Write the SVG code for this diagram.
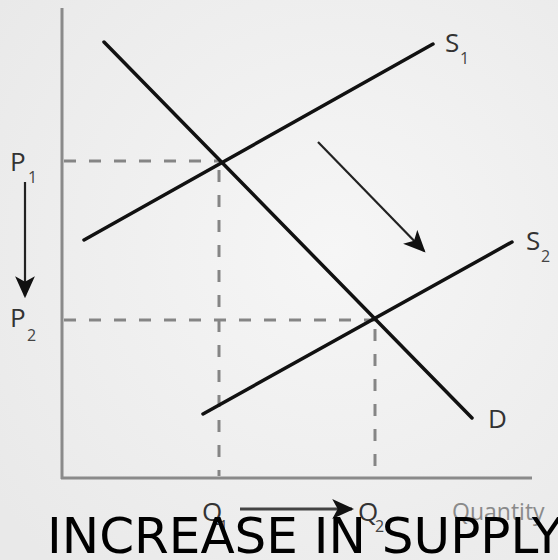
<svg xmlns="http://www.w3.org/2000/svg" width="558" height="560" viewBox="0 0 558 560">
<defs>
<radialGradient id="bg" cx="0.6" cy="0.45" r="0.75">
<stop offset="0" stop-color="#f6f6f6"/>
<stop offset="1" stop-color="#e9e9e9"/>
</radialGradient>
<marker id="ahL" viewBox="0 0 10 10" refX="9" refY="5" markerWidth="22" markerHeight="22" markerUnits="userSpaceOnUse" orient="auto">
<path d="M0,0.5 L10,5 L0,9.5 L2.5,5 Z" fill="#111"/>
</marker>
</defs>
<style>
.axis{stroke:#8a8a8a;stroke-width:3;fill:none}
.dash{stroke:#858585;stroke-width:3;stroke-dasharray:12 13;fill:none}
.curve{stroke:#111;stroke-width:3.5;fill:none;stroke-linecap:round}
.arrow{stroke:#222;stroke-width:2.2;fill:none}
.lbl{font-family:"Open Sans","DejaVu Sans",sans-serif;font-size:26px;fill:#333}
.sub{font-family:"Open Sans","DejaVu Sans",sans-serif;font-size:16px;fill:#444}
.qty{font-family:"Open Sans","DejaVu Sans",sans-serif;font-size:23px;fill:#8a8a8a}
.title{font-family:"DejaVu Sans","Open Sans",sans-serif;font-size:50px;fill:#000}
</style>
<rect width="558" height="560" fill="url(#bg)"/>
<g id="axes">
<line class="axis" x1="62" y1="8" x2="62" y2="479"/>
<line class="axis" x1="61" y1="478" x2="532" y2="478"/>
</g>
<g id="guides">
<path class="dash" d="M64,161 H219"/>
<path class="dash" d="M219,170 V476"/>
<path class="dash" d="M64,320 H375"/>
<path class="dash" d="M375,329 V476"/>
</g>
<g id="connectors">
<line id="S1" class="curve" x1="84" y1="240" x2="433" y2="44"/>
<line id="S2" class="curve" x1="203" y1="414" x2="512" y2="242"/>
<line id="D" class="curve" x1="104" y1="42" x2="472" y2="418"/>
<line id="shift" class="arrow" x1="318" y1="142" x2="424" y2="251" marker-end="url(#ahL)"/>
<line id="priceArrow" class="arrow" x1="25" y1="182" x2="25" y2="296" marker-end="url(#ahL)"/>
<line id="qtyArrow" x1="240" y1="509" x2="352" y2="509" stroke="#444" stroke-width="3" marker-end="url(#ahL)"/>
</g>
<g id="labels">
<g id="lblP1"><text class="lbl" x="10" y="171">P</text><text class="sub" x="28" y="183">1</text></g>
<g id="lblP2"><text class="lbl" x="10" y="327">P</text><text class="sub" x="27" y="341">2</text></g>
<g id="lblS1"><text class="lbl" x="445" y="52">S</text><text class="sub" x="460" y="64">1</text></g>
<g id="lblS2"><text class="lbl" x="526" y="250">S</text><text class="sub" x="541" y="262">2</text></g>
<g id="lblD"><text class="lbl" x="488" y="428">D</text></g>
<g id="lblQ1"><text class="lbl" x="202" y="521">Q</text><text class="sub" x="219" y="532">1</text></g>
<g id="lblQ2"><text class="lbl" x="358" y="521">Q</text><text class="sub" x="375" y="532">2</text></g>
<g id="lblQty"><text class="qty" x="452" y="520">Quantity</text></g>
</g>
<g id="title"><text class="title" x="47" y="553">INCREASE IN SUPPLY</text></g>
</svg>
